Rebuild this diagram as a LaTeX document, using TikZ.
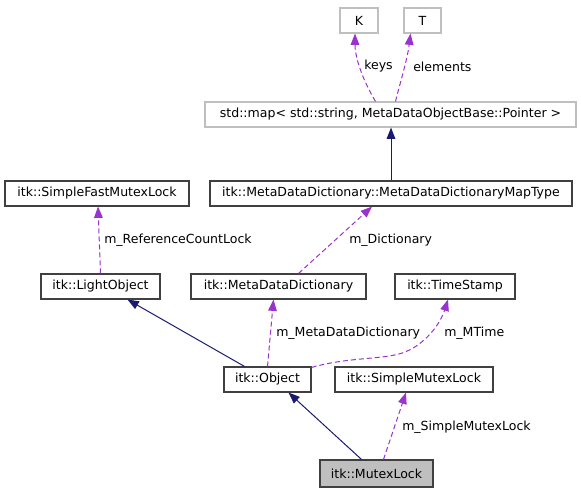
\documentclass[tikz,border=0pt]{standalone}
\usepackage{fontspec}
\setmainfont{DejaVu Sans}
\usetikzlibrary{calc}
\usetikzlibrary{arrows.meta}

\definecolor{edgeblue}{HTML}{191970}
\definecolor{edgepurple}{HTML}{9A32CD}
\definecolor{boxgray}{HTML}{BFBFBF}
\definecolor{boxline}{HTML}{404040}

\begin{document}
\begin{tikzpicture}[x=0.75pt,y=-0.75pt,>={Triangle[length=8.5pt,width=6.5pt]},
  cls/.style={draw=boxline,line width=0.85pt,inner sep=0pt,minimum height=18.75pt,
    minimum width=#1,font=\fontsize{9.4}{11}\selectfont},
  ext/.style={cls=#1,draw=boxgray},
  inherit/.style={->,draw=edgeblue,line width=0.75pt},
  uses/.style={->,draw=edgepurple,line width=0.75pt,dash pattern=on 3.75pt off 2.25pt},
  lbl/.style={anchor=west,inner sep=0pt,font=\fontsize{9.4}{11}\selectfont}]

\useasboundingbox (0,0) rectangle (581,493);

% boxes
\node [ext=28.5pt] (K) at (359,20.5) {K};
\node [ext=27.75pt] (T) at (422.5,20.5) {T};
\node [ext=278.25pt] (map) at (390.5,114.5) {std::map< std::string, MetaDataObjectBase::Pointer >};
\node [cls=271.5pt] (mapType) at (391,193.5) {itk::MetaDataDictionary::MetaDataDictionaryMapType};
\node [cls=138pt] (fastLock) at (97,193.5) {itk::SimpleFastMutexLock};
\node [cls=89.25pt] (lightObj) at (100.5,286.5) {itk::LightObject};
\node [cls=131.25pt] (dict) at (278.5,286.5) {itk::MetaDataDictionary};
\node [cls=90pt] (stamp) at (455,286.5) {itk::TimeStamp};
\node [cls=65.25pt] (object) at (267.5,379.5) {itk::Object};
\node [cls=118.5pt] (simpleLock) at (414,379.5) {itk::SimpleMutexLock};
\node [cls=84.75pt,minimum height=20.25pt,fill=boxgray] (mutex) at (376.5,473.5) {itk::MutexLock};

% edges
\draw [uses] ($(map.north)+(-15,0)$) .. controls +(-12,-20) and +(0,25) .. ($(K.south)+(-4,0)$);
\draw [uses] ($(map.north)+(5,0)$) .. controls +(5,-20) and +(-3,25) .. ($(T.south)+(-12,0)$);
\draw [inherit] (mapType.north) -- (mapType.north |- map.south);
\draw [uses] ($(lightObj.north)+(0,0)$) -- ($(fastLock.south)+(1,0)$);
\draw [uses] ($(dict.north)+(20,0)$) -- ($(mapType.south)+(-19,0)$);
\draw [inherit] ($(object.north)+(-23,0)$) -- ($(lightObj.south)+(27,0)$);
\draw [uses] (object.north) -- ($(dict.south)+(-5,0)$);
\draw [uses] ($(object.north east)+(0,1)$) .. controls +(39,-11) and +(-20,8) .. (405,352)
  .. controls +(20,-8) and +(-8,25) .. ($(stamp.south)+(-7,0)$);
\draw [inherit] ($(mutex.north)+(-15,0)$) -- ($(object.south)+(21,0)$);
\draw [uses] ($(mutex.north)+(7,0)$) -- ($(simpleLock.south)+(-8,0)$);

% labels
\node [lbl] (keysLbl) at (364,66.5) {keys};
\node [lbl] (elemLbl) at (413,66.5) {elements};
\node [lbl] (refLbl) at (104,240) {m\_ReferenceCountLock};
\node [lbl] (dictLbl) at (349,240) {m\_Dictionary};
\node [lbl] (mddLbl) at (276,333) {m\_MetaDataDictionary};
\node [lbl] (timeLbl) at (444,333) {m\_MTime};
\node [lbl] (smlLbl) at (402,427) {m\_SimpleMutexLock};

\end{tikzpicture}
\end{document}
